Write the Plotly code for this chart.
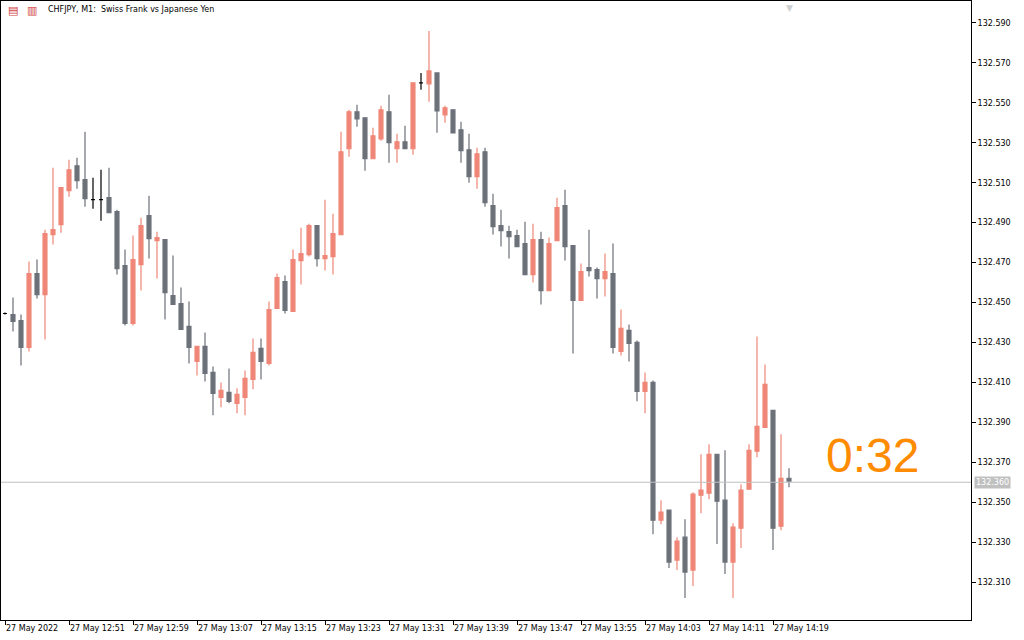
import plotly.graph_objects as go

opens = [132.4445,132.4440,132.4410,132.4275,132.4645,132.4540,132.4840,132.4890,132.5060,132.5185,
132.5115,132.5015,132.5015,132.5025,132.4955,132.4685,132.4395,132.4690,132.4935,132.4810,
132.4815,132.4535,132.4495,132.4380,132.4205,132.4280,132.4150,132.4025,132.4050,132.3995,
132.4025,132.4115,132.4270,132.4195,132.4470,132.4605,132.4455,132.4710,132.4740,132.4885,
132.4720,132.4730,132.4840,132.5270,132.5455,132.5425,132.5220,132.5320,132.5455,132.5270,
132.5305,132.5270,132.5600,132.5595,132.5650,132.5440,132.5465,132.5365,132.5265,132.5130,
132.5255,132.4985,132.4885,132.4855,132.4835,132.4795,132.4640,132.4815,132.4560,132.4810,
132.4985,132.4785,132.4510,132.4675,132.4665,132.4620,132.4645,132.4255,132.4360,132.4300,
132.4055,132.4100,132.3410,132.3460,132.3210,132.3325,132.3160,132.3535,132.3545,132.3740,
132.3510,132.3200,132.3370,132.3565,132.3755,132.3875,132.3960,132.3380,132.3620]
highs = [132.4450,132.4525,132.4440,132.4705,132.4715,132.4865,132.5175,132.5075,132.5215,132.5225,
132.5355,132.5125,132.5165,132.5175,132.4965,132.4765,132.4835,132.4925,132.5035,132.4855,
132.4815,132.4735,132.4575,132.4505,132.4280,132.4350,132.4180,132.4100,132.4170,132.4070,
132.4160,132.4320,132.4320,132.4505,132.4645,132.4635,132.4765,132.4875,132.4895,132.4885,
132.5015,132.4945,132.5355,132.5465,132.5490,132.5425,132.5375,132.5485,132.5540,132.5345,
132.5385,132.5600,132.5650,132.5860,132.5650,132.5485,132.5465,132.5405,132.5345,132.5275,
132.5275,132.5045,132.4965,132.4885,132.4865,132.4905,132.4895,132.4855,132.4825,132.5025,
132.5065,132.4785,132.4695,132.4865,132.4675,132.4745,132.4795,132.4465,132.4390,132.4310,
132.4150,132.4110,132.3510,132.3460,132.3325,132.3415,132.3550,132.3740,132.3790,132.3740,
132.3760,132.3395,132.3590,132.3790,132.4330,132.4190,132.3960,132.3840,132.3670]
lows = [132.4440,132.4355,132.4185,132.4255,132.4520,132.4315,132.4790,132.4850,132.5030,132.5070,
132.4980,132.4970,132.4910,132.4950,132.4640,132.4385,132.4385,132.4560,132.4720,132.4620,
132.4415,132.4490,132.4365,132.4195,132.4135,132.4105,132.3935,132.3975,132.3995,132.3945,
132.3935,132.4065,132.4115,132.4185,132.4470,132.4445,132.4455,132.4590,132.4730,132.4680,
132.4660,132.4640,132.4840,132.5230,132.5380,132.5160,132.5220,132.5310,132.5200,132.5200,
132.5270,132.5240,132.5565,132.5505,132.5350,132.5400,132.5350,132.5200,132.5100,132.5070,
132.4980,132.4840,132.4780,132.4720,132.4780,132.4640,132.4600,132.4490,132.4560,132.4810,
132.4710,132.4245,132.4510,132.4630,132.4520,132.4530,132.4245,132.4235,132.4205,132.4005,
132.3945,132.3340,132.3390,132.3170,132.3160,132.3020,132.3080,132.3445,132.3515,132.3290,
132.3140,132.3020,132.3270,132.3565,132.3725,132.3875,132.3260,132.3360,132.3575]
closes = [132.4445,132.4405,132.4275,132.4645,132.4540,132.4845,132.4865,132.5075,132.5165,132.5110,
132.5020,132.5015,132.5015,132.4950,132.4670,132.4395,132.4715,132.4885,132.4820,132.4825,
132.4550,132.4490,132.4365,132.4275,132.4280,132.4145,132.4045,132.4060,132.4005,132.4040,
132.4120,132.4250,132.4205,132.4465,132.4625,132.4460,132.4715,132.4745,132.4885,132.4720,
132.4735,132.4845,132.5255,132.5455,132.5420,132.5220,132.5335,132.5465,132.5300,132.5305,
132.5270,132.5600,132.5600,132.5660,132.5460,132.5475,132.5350,132.5260,132.5130,132.5245,
132.5000,132.4880,132.4860,132.4830,132.4780,132.4640,132.4815,132.4560,132.4795,132.4975,
132.4780,132.4510,132.4655,132.4660,132.4620,132.4655,132.4275,132.4370,132.4295,132.4055,
132.4100,132.3410,132.3450,132.3200,132.3305,132.3150,132.3540,132.3560,132.3740,132.3505,
132.3200,132.3375,132.3560,132.3760,132.3880,132.4090,132.3370,132.3620,132.3605]

first_minute = 12 * 60 + 43
date_label = "27 May 2022"
tick_step = 8
y_ticks = [132.310, 132.330, 132.350, 132.370, 132.390, 132.410, 132.430, 132.450,
           132.470, 132.490, 132.510, 132.530, 132.550, 132.570, 132.590]
current_price = 132.360
countdown = "0:32"
title = "CHFJPY, M1:  Swiss Frank vs Japanese Yen"

n = len(opens)
idx = list(range(n))
doji = [i for i in idx if opens[i] == closes[i]]
normal = [i for i in idx if opens[i] != closes[i]]

def pick(arr, ids):
    return [arr[i] for i in ids]

fig = go.Figure()
fig.add_trace(go.Candlestick(
    x=normal, open=pick(opens, normal), high=pick(highs, normal),
    low=pick(lows, normal), close=pick(closes, normal),
    increasing=dict(line=dict(color="#EF8677", width=1.2), fillcolor="#EF8677"),
    decreasing=dict(line=dict(color="#6B7079", width=1.2), fillcolor="#6B7079"),
    whiskerwidth=0, hoverinfo="skip"))
fig.add_trace(go.Candlestick(
    x=doji, open=pick(opens, doji), high=pick(highs, doji),
    low=pick(lows, doji), close=pick(closes, doji),
    increasing=dict(line=dict(color="#000000", width=1.2), fillcolor="#000000"),
    decreasing=dict(line=dict(color="#000000", width=1.2), fillcolor="#000000"),
    whiskerwidth=0, hoverinfo="skip"))

tickvals = list(range(0, n, tick_step))
ticktext = []
for t in tickvals:
    if t == 0:
        ticktext.append(date_label)
    else:
        m = first_minute + t
        ticktext.append(f"27 May {m // 60}:{m % 60:02d}")

fig.add_hline(y=current_price, line=dict(color="#C0C0C0", width=1))

fig.update_layout(
    width=1024, height=640, paper_bgcolor="white", plot_bgcolor="white",
    margin=dict(l=1, r=53, t=1, b=20), showlegend=False,
    font=dict(family="DejaVu Sans", size=8, color="#000000"),
    xaxis=dict(range=[-0.5, 120.75], tickvals=tickvals, ticktext=ticktext,
               showgrid=False, rangeslider=dict(visible=False), ticks="outside",
               ticklen=4, tickcolor="#000", showline=True, linecolor="#000",
               mirror=True, zeroline=False, ticklabelposition="outside right",
               tickangle=0, automargin=False, tickfont=dict(size=8)),
    yaxis=dict(range=[132.291, 132.601], side="right", tickvals=y_ticks,
               ticktext=[f"{v:.3f}" for v in y_ticks], showgrid=False,
               ticks="outside", ticklen=4, tickcolor="#000", showline=True,
               linecolor="#000", mirror=True, zeroline=False, automargin=False,
               tickfont=dict(size=8)),
    annotations=[
        dict(text=title, xref="paper", yref="paper", x=0.046, y=0.996,
             xanchor="left", yanchor="top", showarrow=False, font=dict(size=8)),
        dict(text="▤", xref="paper", yref="paper", x=0.005, y=0.998,
             xanchor="left", yanchor="top", showarrow=False,
             font=dict(size=11, color="#D04040")),
        dict(text="▥", xref="paper", yref="paper", x=0.025, y=0.998,
             xanchor="left", yanchor="top", showarrow=False,
             font=dict(size=11, color="#D04040")),
        dict(text=countdown, xref="paper", yref="y", x=0.898, y=132.3735,
             xanchor="center", yanchor="middle", showarrow=False,
             font=dict(size=48, color="#FF8C00", family="Liberation Sans")),
        dict(text=f"{current_price:.3f}", xref="paper", yref="y", x=1.003,
             y=current_price, xanchor="left", yanchor="middle", showarrow=False,
             bgcolor="#C0C0C0", font=dict(size=8, color="white"), borderpad=1),
        dict(text="▼", xref="x", yref="paper", x=98, y=1.0, xanchor="center",
             yanchor="top", showarrow=False, font=dict(size=9, color="#D0D0D0")),
    ])

fig.write_html("out.html", post_script="document.body.style.margin='0';",
               config={"displayModeBar": False})
